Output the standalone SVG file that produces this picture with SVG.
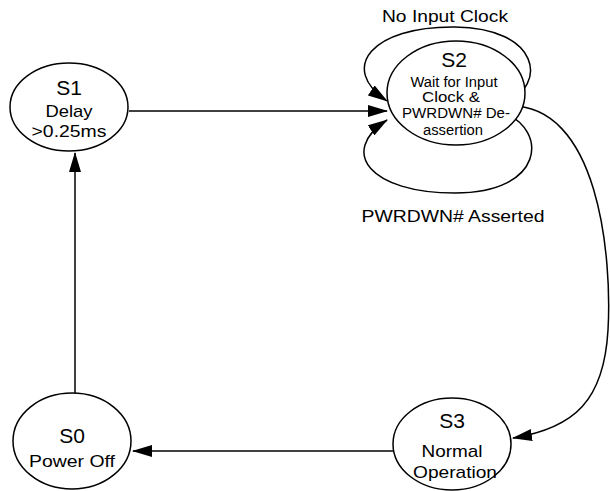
<svg xmlns="http://www.w3.org/2000/svg" width="610" height="491" viewBox="0 0 610 491">
<defs>
<marker id="arr" viewBox="0 0 20 12" refX="19" refY="6" markerWidth="20" markerHeight="12" markerUnits="userSpaceOnUse" orient="auto">
<path d="M0,0 L20,6 L0,12 Z" fill="#000"/>
</marker>
</defs>
<style>
.n{fill:#fff;stroke:#000;stroke-width:1.5}
.c{fill:none;stroke:#000;stroke-width:1.5}
text{font-family:"Liberation Sans",Arial,sans-serif;fill:#000;text-anchor:middle}
.t{font-size:21px}
.s{font-size:17px}
.x{font-size:14px}
</style>
<rect width="610" height="491" fill="#fff"/>
<g id="connectors">
<path class="c" d="M75,393 L75,153" marker-end="url(#arr)"/>
<path class="c" d="M129,111 L387,111" marker-end="url(#arr)"/>
<path class="c" d="M505,103 C548,85 540,28 455,27 C372,26 338,68 387,101" marker-end="url(#arr)"/>
<path class="c" d="M504,113 C548,130 545,193 455,193 C370,193 338,152 387,120" marker-end="url(#arr)"/>
<path class="c" d="M505,106 C600,100 612,260 608,330 C604,400 575,428 513,438" marker-end="url(#arr)"/>
<path class="c" d="M393,451 L133,451" marker-end="url(#arr)"/>
</g>
<g id="S1">
<ellipse class="n" cx="69" cy="107" rx="59" ry="44"/>
<text class="t" x="69" y="95">S1</text>
<text class="s" x="69" y="117" textLength="47" lengthAdjust="spacingAndGlyphs">Delay</text>
<text class="s" x="69" y="137" textLength="75" lengthAdjust="spacingAndGlyphs">&gt;0.25ms</text>
</g>
<g id="S2">
<ellipse class="n" cx="456" cy="93" rx="69" ry="52"/>
<text class="t" x="454" y="67">S2</text>
<text class="x" x="454" y="87" textLength="87" lengthAdjust="spacingAndGlyphs">Wait for Input</text>
<text class="x" x="451" y="102" textLength="58" lengthAdjust="spacingAndGlyphs">Clock &amp;</text>
<text class="x" x="456" y="118" textLength="108" lengthAdjust="spacingAndGlyphs">PWRDWN# De-</text>
<text class="x" x="453" y="135" textLength="60" lengthAdjust="spacingAndGlyphs">assertion</text>
</g>
<g id="S3">
<ellipse class="n" cx="452" cy="444" rx="59" ry="46"/>
<text class="t" x="452" y="428">S3</text>
<text class="s" x="452" y="457" textLength="61" lengthAdjust="spacingAndGlyphs">Normal</text>
<text class="s" x="455" y="478" textLength="84" lengthAdjust="spacingAndGlyphs">Operation</text>
</g>
<g id="S0">
<ellipse class="n" cx="72" cy="441" rx="59" ry="48"/>
<text class="t" x="72" y="443">S0</text>
<text class="s" x="72" y="467" textLength="86" lengthAdjust="spacingAndGlyphs">Power Off</text>
</g>
<g id="labels">
<text class="s" x="445" y="22" textLength="126" lengthAdjust="spacingAndGlyphs">No Input Clock</text>
<text class="s" x="453" y="222" textLength="183" lengthAdjust="spacingAndGlyphs">PWRDWN# Asserted</text>
</g>
</svg>
